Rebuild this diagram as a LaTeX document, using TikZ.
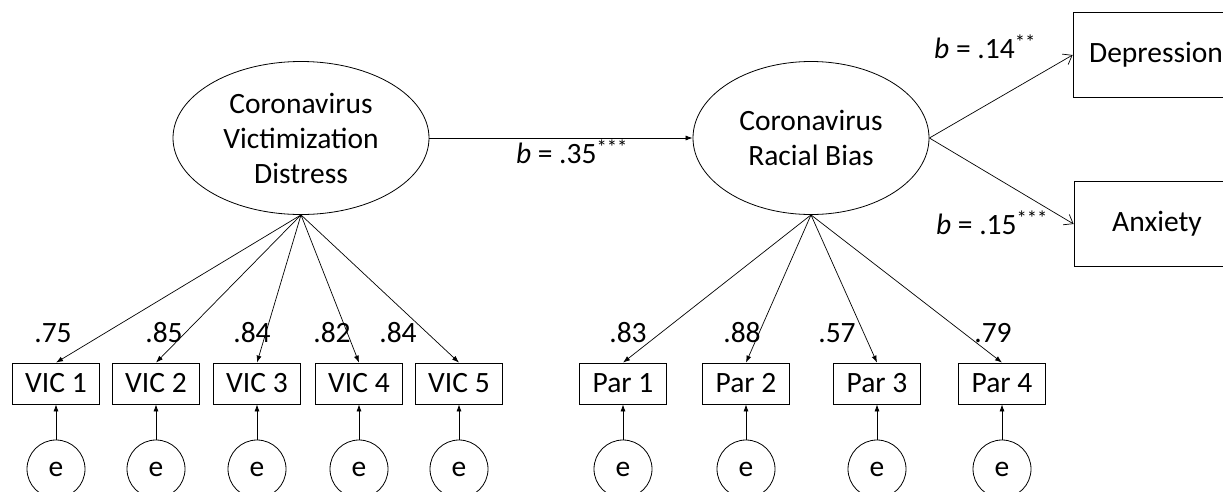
\documentclass[tikz,border=0pt]{standalone}
\usepackage{fontspec}
\setmainfont{Carlito}
\usetikzlibrary{shapes.geometric,arrows.meta}
\tikzset{lat/.style = {ellipse, draw, line width=0.8pt, inner sep=0pt, align=center, minimum height=153pt},
           ind/.style = {rectangle, draw, line width=0.8pt, minimum width=87pt, minimum height=41pt, inner sep=0pt},
           err/.style = {circle, draw, line width=0.8pt, minimum size=58pt, inner sep=0pt},
           dv/.style = {rectangle, draw, line width=0.8pt, minimum width=166pt, minimum height=85pt, inner sep=0pt},
           ld/.style = {inner sep=0pt}}

\begin{document}
\begin{tikzpicture}[x=1pt, y=-1pt, >={Latex[length=7pt,width=5pt]}, line width=0.7pt,
                    font=\fontsize{29.5}{35}\selectfont]
    \useasboundingbox (0,0) rectangle (1223,491);
    \clip (0,0) rectangle (1223,491);
    \node[lat, minimum width=256pt] (vic) at (301,138) {Coronavirus\\Victimization\\Distress};
    \node[lat, minimum width=236pt] (rb) at (811,138) {Coronavirus\\Racial Bias};
    \node[dv] (dep) at (1156,55) {Depression};
    \node[dv] (anx) at (1157,224) {Anxiety};
    \node[ind] (v1) at (56,383.5) {VIC 1}; \node[ind] (v2) at (156,383.5) {VIC 2}; \node[ind] (v3) at (257,383.5) {VIC 3};
    \node[ind] (v4) at (359,383.5) {VIC 4}; \node[ind] (v5) at (459,383.5) {VIC 5};
    \node[ind] (p1) at (623,383.5) {Par 1}; \node[ind] (p2) at (746,383.5) {Par 2};
    \node[ind] (p3) at (877,383.5) {Par 3}; \node[ind] (p4) at (1002,383.5) {Par 4};
    \node[err] (ev1) at (56,469) {e}; \node[err] (ev2) at (156,469) {e}; \node[err] (ev3) at (257,469) {e};
    \node[err] (ev4) at (359,469) {e}; \node[err] (ev5) at (459,469) {e};
    \node[err] (ep1) at (623,469) {e}; \node[err] (ep2) at (746,469) {e};
    \node[err] (ep3) at (877,469) {e}; \node[err] (ep4) at (1002,469) {e};
    \node[ld] (lv1) at (53,333) {.75}; \node[ld] (lv2) at (164,333) {.85}; \node[ld] (lv3) at (252,333) {.84};
    \node[ld] (lv4) at (332,333) {.82}; \node[ld] (lv5) at (398,333) {.84};
    \node[ld] (lp1) at (628,333) {.83}; \node[ld] (lp2) at (742,333) {.88};
    \node[ld] (lp3) at (837,333) {.57}; \node[ld] (lp4) at (993,333) {.79};
    \node[ld] (b1) at (572,152) {\textit{b} = .35\textsuperscript{***}};
    \node[ld] (b2) at (985,47) {\textit{b} = .14\textsuperscript{**}};
    \node[ld] (b3) at (992,223) {\textit{b} = .15\textsuperscript{***}};
    \draw[->] (vic) -- (rb);
    \draw[-{Straight Barb[length=8pt,width=12pt]}] (rb.east) -- (dep.west);
    \draw[-{Straight Barb[length=8pt,width=12pt]}] (rb.east) -- (anx.west);
    \draw[->] (vic.south) -- (v1.north); \draw[->] (vic.south) -- (v2.north); \draw[->] (vic.south) -- (v3.north);
    \draw[->] (vic.south) -- (v4.north); \draw[->] (vic.south) -- (v5.north);
    \draw[->] (rb.south) -- (p1.north); \draw[->] (rb.south) -- (p2.north);
    \draw[->] (rb.south) -- (p3.north); \draw[->] (rb.south) -- (p4.north);
    \draw[->] (ev1) -- (v1); \draw[->] (ev2) -- (v2); \draw[->] (ev3) -- (v3);
    \draw[->] (ev4) -- (v4); \draw[->] (ev5) -- (v5);
    \draw[->] (ep1) -- (p1); \draw[->] (ep2) -- (p2);
    \draw[->] (ep3) -- (p3); \draw[->] (ep4) -- (p4);
  \end{tikzpicture}
\end{document}
